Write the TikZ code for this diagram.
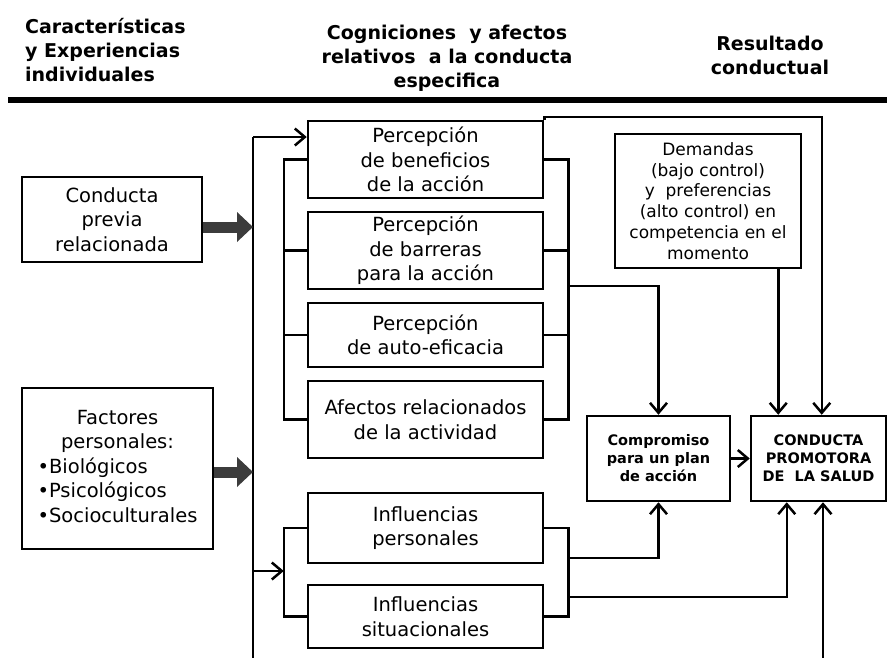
\documentclass[tikz,border=0pt]{standalone}
\usepackage{fontspec}
\setmainfont{DejaVu Sans}
\usetikzlibrary{arrows.meta,calc}
\definecolor{fatgray}{HTML}{3C3C3C}
\begin{document}
\begin{tikzpicture}[x=1pt,y=-1pt,
  box/.style={draw, line width=2.5pt, align=center, inner sep=0pt, font=\fontsize{19.5}{24.5}\selectfont},
  smallbox/.style={box, font=\fontsize{17}{20.8}\selectfont},
  boldbox/.style={box, font=\fontsize{14.5}{18}\selectfont\bfseries},
  conn/.style={line width=2.5pt},
  arr/.style={conn, -{Straight Barb[length=10pt,width=17pt]}},
  fat/.style={line width=11pt, draw=fatgray, -{Triangle[length=16pt,width=29pt]}},
  head/.style={font=\fontsize{19}{24}\selectfont\bfseries, inner sep=0pt}]
\useasboundingbox (0,0) rectangle (887,657);
% headers
\node[head, anchor=west, align=left] (hl) at (25,50) {Características\\y Experiencias\\individuales};
\node[head, align=center] (hc) at (447,58) {Cogniciones~ y afectos\\relativos~ a la conducta\\especifica};
\node[head, align=center] (hr) at (770,55) {Resultado\\conductual};
\draw[line width=6pt] (8,100) -- (887,100);
% left boxes
\node[box, minimum width=180pt, minimum height=85pt] (cp) at (112,219.5) {Conducta\\previa\\relacionada};
\node[box, minimum width=191pt, minimum height=161pt] (fp) at (117.5,468.5)
  {\begin{tabular}{@{}l@{}}\multicolumn{1}{@{}c@{}}{Factores}\\\multicolumn{1}{@{}c@{}}{personales:}\\•Biológicos\\•Psicológicos\\•Socioculturales\end{tabular}};
% middle boxes
\node[box, minimum width=235pt, minimum height=77pt] (b1) at (425.5,159.5) {Percepción\\de beneficios\\de la acción};
\node[box, minimum width=235pt, minimum height=77pt] (b2) at (425.5,250.5) {Percepción\\de barreras\\para la acción};
\node[box, minimum width=235pt, minimum height=64pt] (b3) at (425.5,335) {Percepción\\de auto-eficacia};
\node[box, minimum width=235pt, minimum height=77pt] (b4) at (425.5,419.5) {Afectos relacionados\\de la actividad};
\node[box, minimum width=235pt, minimum height=70pt] (b5) at (425.5,528) {Influencias\\personales};
\node[box, minimum width=235pt, minimum height=63pt] (b6) at (425.5,616.5) {Influencias\\situacionales};
% right boxes
\node[smallbox, minimum width=186pt, minimum height=134pt] (dem) at (708,201) {Demandas\\(bajo control)\\y~ preferencias\\(alto control) en\\competencia en el\\momento};
\node[boldbox, minimum width=143pt, minimum height=85pt] (comp) at (658.5,458.5) {Compromiso\\para un plan\\de acción};
\node[boldbox, minimum width=135pt, minimum height=85pt] (cond) at (818.5,458.5) {CONDUCTA\\PROMOTORA\\DE~ LA SALUD};
% main vertical line
\coordinate (vtop) at (253,137);
\coordinate (vbot) at (253,660);
\coordinate (vmid) at (253,571);
\draw[conn] (vbot) -- (vtop);
\draw[arr] (vtop) -- (vtop -| b1.west);
% fat arrows
\coordinate (f1) at (253,227);
\coordinate (f2) at (253,472);
\draw[fat] (f1 -| cp.east) -- (f1);
\draw[fat] (f2 -| fp.east) -- (f2);
% brackets group 1
\draw[conn] (b1.west) -- ++(-23,0) coordinate (lb1) |- (b4.west);
\draw[conn] (b2.west) -- ++(-23,0);
\draw[conn] (b3.west) -- ++(-23,0);
\draw[conn] (b1.east) -- ++(24,0) coordinate (rb) |- (b4.east);
\draw[conn] (b2.east) -- ++(24,0);
\draw[conn] (b3.east) -- ++(24,0);
% brackets group 2
\draw[conn] (b5.west) -- ++(-23,0) |- (b6.west);
\draw[conn] (b5.east) -- ++(24,0) |- (b6.east);
\draw[arr] (vmid) -- (vmid -| lb1);
% to compromiso
\coordinate (rb1) at (567,286);
\draw[arr] (rb1) -| (comp.north);
\coordinate (ri1) at (567,558);
\draw[arr] (ri1) -| (comp.south);
% to conducta
\coordinate (ri2) at (567,597);
\draw[arr] (ri2) -| ($(cond.south west)+(37,0)$);
\draw[arr] (comp.east) -- (cond.west);
\draw[arr] ($(dem.south west)+(164.5,0)$) coordinate (d0) -- (d0 |- cond.north);
\draw[arr] (b1.north east) -- ++(0,-3) -| ($(cond.north west)+(72,0)$);
\coordinate (cb) at (823,660);
\draw[arr] (cb) -- (cb |- cond.south);
\end{tikzpicture}
\end{document}
